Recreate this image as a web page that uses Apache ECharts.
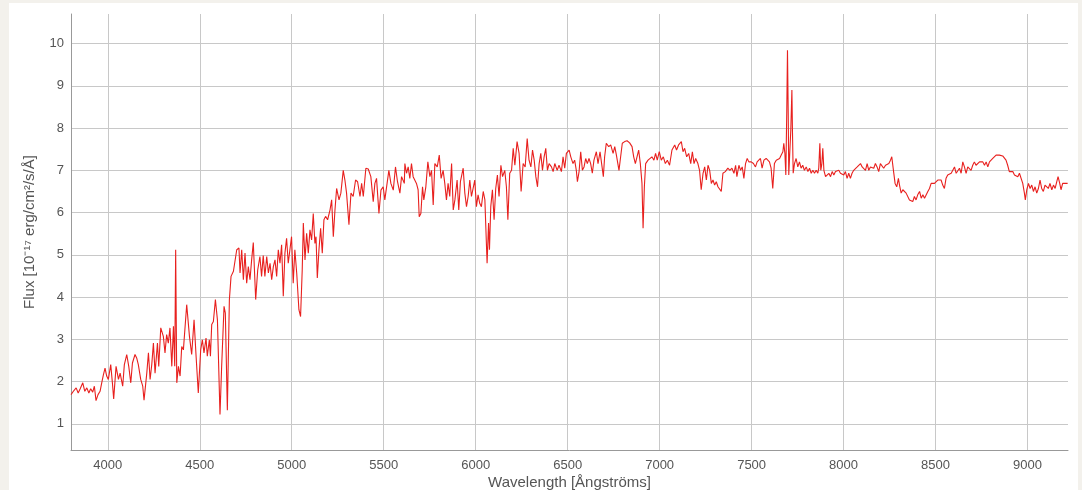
<!DOCTYPE html>
<html>
<head>
<meta charset="utf-8">
<script src="https://cdn.jsdelivr.net/npm/echarts@6/dist/echarts.min.js"></script>
<style>
  html, body { margin: 0; padding: 0; background: #f3f1ec; }
  #panel { position: absolute; left: 9px; top: 3px; width: 1069px; height: 487px; background: #ffffff; }
  #chart { position: absolute; left: 0; top: 0; width: 1082px; height: 490px; }
</style>
</head>
<body>
<div id="panel"></div>
<div id="chart"></div>
<script>
const xTicks = [4000, 4500, 5000, 5500, 6000, 6500, 7000, 7500, 8000, 8500, 9000];
const yTicks = [1, 2, 3, 4, 5, 6, 7, 8, 9, 10];
const xTitle = 'Wavelength [Ångströms]';
const yTitle = 'Flux [10⁻¹⁷ erg/cm²/s/Å]';

const wavelength = [
3800,3813,3828,3839,3850,3864,3875,3886,3897,3907,3918,3927,3936,3947,3958,3967,3976,3985,3994,4003,
4016,4025,4032,4045,4058,4067,4081,4090,4103,4114,4125,4134,4148,4157,4166,4179,4190,4197,4212,4221,
4230,4239,4248,4257,4270,4277,4288,4302,4311,4320,4329,4338,4348,4357,4364,4369,4375,4384,4393,4402,
4411,4429,4444,4456,4469,4480,4492,4505,4514,4523,4534,4541,4552,4558,4565,4574,4585,4596,4610,4619,
4632,4639,4650,4661,4670,4683,
4692,4701,4713,4719,4728,4737,4746,4755,4764,4773,4782,4791,4804,4815,4827,4836,4845,4854,4864,4873,
4882,4891,4900,4909,4918,4927,4936,4945,4954,4963,4972,4981,4990,4999,5008,5017,5027,5039,5048,5057,
5063,5072,5081,5090,5099,5108,5117,5126,5132,5139,5148,5157,5166,5175,5184,5195,5208,5217,5226,5235,
5244,5257,5267,5280,5289,5298,5311,5322,5334,5347,5358,5371,5380,5389,5403,5416,5430,5443,5452,5461,
5474,5485,5497,5506,5515,5528,5539,5552,5564,5575,5588,5597,5612,
5615,5624,5633,5642,5651,5660,5669,5678,5687,5693,5702,5711,5718,5729,5740,5751,5760,5769,5778,5791,
5802,5812,5823,5832,5841,5850,5859,5869,5878,5887,5899,5908,5917,5932,5941,5950,5959,5968,5977,5986,
5995,6004,6013,6022,6031,6041,6050,6055,6062,6070,6075,6082,6091,6100,6109,6118,6127,6137,6146,6158,
6167,6175,6185,6195,6204,6213,6225,6236,6247,6258,6269,6280,6290,6300,6309,6318,6327,6336,6345,6354,
6363,6372,6381,6390,6399,6412,6421,6430,6443,6453,6466,6475,6484,6493,6508,
6517,6529,6538,6547,6553,6562,6571,6580,6589,6598,6607,6616,6625,6634,6643,6656,6665,6676,6687,6694,
6701,6710,6723,6734,6747,6756,6765,6774,6779,6788,6797,6810,6823,6837,6850,6859,6868,6877,6886,6895,
6904,6910,6917,6924,6937,6946,6958,6969,6978,6987,6998,7009,7020,7031,7042,7054,7067,7082,7092,7103,
7118,7127,7136,7147,7158,7169,7178,7187,7196,7208,7217,7226,7236,7245,7254,7263,7272,7281,7290,7299,
7308,7317,7326,7335,7344,7357,7371,7382,7393,7404,
7413,7420,7431,7440,7449,7458,7467,7476,7485,7498,7510,7521,7530,7539,7548,7557,7567,7579,7588,7597,
7606,7615,7624,7634,7643,7652,7661,7670,7675,7681,7686,7691,7695,7699,7702,7708,7713,7719,7722,7726,
7733,7742,7751,7760,7769,7778,7787,7797,7806,7815,7824,7833,7842,7851,7860,7865,7871,7876,7882,7887,
7893,7902,7911,7920,7929,7938,7947,7956,7965,7974,7983,7992,8001,8010,8019,8028,8037,8046,8055,8065,
8074,8083,8092,8101,8110,8119,8128,8137,8146,8155,8164,8173,8182,8191,8200,8209,8218,8228,8237,8246,
8255,8262,8271,8280,8289,8298,
8304,8313,8322,8331,8340,8349,8358,8367,8376,8385,8394,8403,8413,8422,8431,8440,8449,8458,8467,8476,
8485,8494,8503,8512,8521,8530,8539,8548,8557,8566,8576,8585,8594,8603,8612,8621,8630,8639,8648,8657,
8666,8675,8684,8693,8702,8711,8720,8729,8739,8748,8757,8766,8775,8784,8793,8802,8811,8820,8829,8838,
8847,8856,8865,8874,8883,8892,8901,8911,8920,8929,8938,8947,8956,8965,8974,8983,8988,8996,9005,9014,
9023,9032,9041,9050,9059,9068,9077,9086,9095,9104,9113,9122,9132,9141,9150,9159,9166,9175,9182,9191,
9200,9218
];

const flux = [
1.69,1.77,1.85,1.73,1.83,1.97,1.77,1.85,1.73,1.83,1.75,1.89,1.55,1.69,1.77,1.97,2.16,2.32,2.13,2.05,
2.40,1.97,1.59,2.36,2.05,2.20,1.89,2.40,2.64,2.36,1.97,2.44,2.64,2.56,2.40,2.05,1.89,1.56,2.20,2.68,
2.05,2.40,2.91,2.20,2.91,2.36,3.27,3.07,2.68,3.11,2.91,3.27,2.36,3.31,2.36,5.12,1.97,2.36,2.13,2.83,
2.75,3.82,3.07,2.64,3.46,2.60,1.73,2.75,2.99,2.68,3.03,2.60,2.99,2.60,3.35,3.42,3.94,3.46,1.22,2.36,
3.78,3.62,1.32,3.94,4.49,4.61,
4.64,5.12,5.16,4.57,5.12,4.41,5.04,4.33,4.72,4.41,4.88,5.29,3.94,4.64,4.96,4.49,4.98,4.49,4.96,4.57,
4.80,4.41,4.72,4.88,4.49,5.12,4.80,5.24,4.02,5.04,5.39,4.80,5.12,5.43,4.33,5.12,4.57,3.70,3.54,4.64,
5.75,4.88,5.51,5.04,5.59,5.35,5.98,5.27,5.43,4.45,5.12,5.63,5.04,5.83,5.91,5.83,6.06,6.30,5.43,6.06,
6.57,6.30,6.46,7.00,6.77,6.46,5.71,6.46,6.38,6.77,6.73,6.38,6.69,6.38,7.05,7.03,6.85,6.26,6.69,6.81,
5.98,6.53,6.61,6.30,6.26,7.00,6.69,6.53,7.08,6.73,6.46,6.85,6.69,
7.16,6.93,7.08,6.81,7.16,6.85,6.81,6.69,6.54,5.90,5.98,6.61,6.30,6.61,7.20,6.85,7.00,6.18,7.16,7.08,
7.36,6.81,7.00,6.69,6.30,6.69,6.38,7.16,6.06,6.30,6.77,6.06,6.73,7.05,6.46,6.14,6.38,6.77,6.38,6.42,
6.77,6.14,6.42,6.22,6.14,6.50,6.30,5.67,4.80,5.75,5.12,6.14,6.54,5.83,6.57,6.89,6.38,7.12,6.85,7.00,
6.61,5.83,6.93,7.00,7.52,7.12,7.68,7.40,6.50,7.16,7.08,7.75,7.24,7.08,7.48,7.24,6.85,6.61,7.16,7.40,
7.00,7.32,7.52,7.00,7.16,7.08,6.97,7.16,7.00,7.12,6.97,7.32,7.05,7.40,7.48,
7.32,7.16,7.24,7.00,6.73,6.97,7.44,7.00,7.08,7.28,7.16,7.28,7.16,6.93,7.24,7.44,7.16,7.44,7.08,6.85,
7.32,7.64,7.56,7.60,7.40,7.56,7.36,7.32,7.00,7.32,7.64,7.68,7.70,7.65,7.56,7.32,7.16,7.32,7.48,7.16,
6.69,5.63,6.61,7.16,7.24,7.28,7.32,7.24,7.40,7.24,7.44,7.24,7.32,7.16,7.24,7.12,7.48,7.60,7.48,7.60,
7.68,7.44,7.52,7.32,7.40,7.16,7.44,7.16,7.28,7.16,7.00,6.54,6.93,7.08,6.77,7.12,7.00,6.69,6.77,6.65,
6.73,6.61,6.65,6.50,6.93,6.97,7.05,7.00,7.05,6.93,
7.12,6.85,7.12,7.00,7.08,6.81,7.16,7.28,7.20,7.20,7.16,7.08,7.20,7.16,7.28,7.05,7.24,7.28,7.32,7.20,
7.05,6.57,7.16,7.24,7.28,7.28,7.36,7.44,7.64,7.40,6.89,8.35,9.84,8.35,6.89,6.89,7.95,8.90,7.95,6.93,
7.16,7.28,7.08,7.20,7.05,7.12,7.00,7.08,6.97,7.05,6.93,7.00,6.93,7.00,6.93,7.05,7.64,7.00,7.16,7.52,
7.00,6.85,6.81,6.93,6.85,6.97,6.89,6.97,6.93,7.00,6.93,6.97,6.89,6.97,6.81,6.93,6.81,6.93,7.00,6.97,
7.08,7.05,7.16,7.08,7.12,7.00,7.16,7.00,7.08,7.12,7.05,7.16,7.08,6.97,7.16,7.12,7.05,7.12,7.08,7.16,
7.24,7.32,7.00,6.69,6.61,6.81,
6.65,6.46,6.54,6.50,6.46,6.42,6.30,6.34,6.26,6.38,6.30,6.42,6.50,6.34,6.42,6.34,6.38,6.50,6.57,6.69,
6.73,6.69,6.73,6.77,6.81,6.77,6.65,6.57,6.81,6.89,6.85,6.93,6.89,7.08,6.93,6.89,7.05,6.93,7.20,7.08,
6.93,7.08,7.12,7.00,7.12,7.20,7.12,7.16,7.20,7.16,7.20,7.12,7.20,7.08,7.20,7.24,7.28,7.32,7.36,7.38,
7.36,7.36,7.34,7.31,7.24,7.12,6.97,6.93,6.97,6.89,6.93,6.85,6.93,6.89,6.69,6.46,6.30,6.54,6.69,6.57,
6.65,6.50,6.61,6.46,6.57,6.77,6.57,6.50,6.65,6.69,6.57,6.69,6.54,6.65,6.57,6.73,6.85,6.69,6.54,6.69,
6.65,6.69
];

const seriesData = wavelength.map((w, i) => [w, flux[i]]);

const chart = echarts.init(document.getElementById('chart'), null, { renderer: 'canvas' });
const fontFamily = 'Liberation Sans, Arial, sans-serif';
chart.setOption({
  backgroundColor: 'transparent',
  animation: false,
  grid: { left: 71, right: 14, top: 14, bottom: 40, containLabel: false, outerBoundsMode: 'none' },
  xAxis: {
    type: 'value',
    min: 3800,
    max: 9220,
    name: xTitle,
    nameLocation: 'middle',
    nameGap: 25,
    nameMoveOverlap: false,
    nameTextStyle: { color: '#555', fontSize: 15, fontFamily: fontFamily },
    axisLine: { show: true, lineStyle: { color: '#999', width: 1 } },
    axisTick: { show: false, customValues: xTicks },
    axisLabel: { customValues: xTicks, margin: 9, color: '#555', fontSize: 13, fontFamily: fontFamily,
                 formatter: function (v) { return String(v); } },
    splitLine: { show: true, lineStyle: { color: '#c8c8c8', width: 1 } }
  },
  yAxis: {
    type: 'value',
    min: 0.38,
    max: 10.7,
    name: yTitle,
    nameLocation: 'middle',
    nameGap: 34,
    nameMoveOverlap: false,
    nameTextStyle: { color: '#555', fontSize: 15, fontFamily: fontFamily },
    axisLine: { show: true, lineStyle: { color: '#999', width: 1 } },
    axisTick: { show: false, customValues: yTicks },
    axisLabel: { customValues: yTicks, margin: 7, color: '#555', fontSize: 13, fontFamily: fontFamily,
                 formatter: function (v) { return String(v); } },
    splitLine: { show: true, lineStyle: { color: '#c8c8c8', width: 1 } }
  },
  series: [{
    type: 'line',
    data: seriesData,
    showSymbol: false,
    symbol: 'none',
    lineStyle: { color: '#e8201e', width: 1.1 },
    silent: true
  }]
});
</script>
</body>
</html>
